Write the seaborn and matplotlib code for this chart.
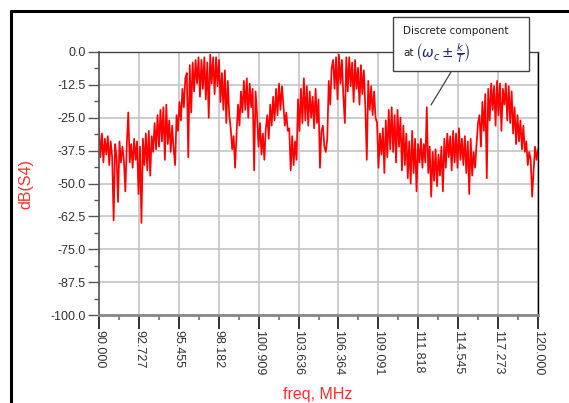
import numpy as np
import matplotlib
matplotlib.use("Agg")
import matplotlib.pyplot as plt
from matplotlib.lines import Line2D
from matplotlib.patches import Rectangle
import seaborn as sns

# dB(S4) trace, 10 samples per MHz from 90.0 to 120.0
db_s4 = [
    -29, -40, -31, -42, -33, -39, -32, -43, -34, -40,   # 90
    -64, -35, -40, -57, -34, -42, -36, -41, -53, -35,   # 91
    -23, -42, -35, -44, -33, -41, -34, -54, -36, -65,   # 92
    -33, -43, -31, -45, -30, -47, -32, -38, -27, -37,   # 93
    -24, -36, -22, -34, -21, -41, -20, -35, -26, -38,   # 94
    -28, -37, -43, -24, -30, -19, -26, -14, -21, -10,   # 95
    -8, -40, -5, -23, -4, -15, -3, -12, -2, -17,        # 96
    -3, -14, -2, -18, -4, -25, -1, -12, -2, -16,        # 97
    -2, -13, -3, -19, -8, -22, -7, -27, -11, -24,       # 98
    -29, -37, -32, -44, -31, -20, -28, -15, -23, -11,   # 99
    -22, -10, -25, -12, -21, -14, -45, -15, -24, -36,   # 100
    -27, -39, -31, -41, -29, -24, -33, -20, -28, -17,   # 101
    -26, -14, -24, -12, -22, -13, -20, -28, -23, -30,   # 102
    -29, -45, -32, -43, -34, -41, -18, -30, -14, -27,   # 103
    -10, -26, -13, -28, -15, -25, -17, -29, -14, -27,   # 104
    -18, -44, -30, -28, -36, -38, -33, -11, -20, -6,    # 105
    -3, -14, -2, -18, -1, -12, -3, -17, -27, -2,        # 106
    -15, -2, -13, -4, -19, -3, -14, -6, -20, -5,        # 107
    -16, -7, -21, -41, -11, -22, -13, -24, -15, -25,    # 108
    -27, -44, -31, -39, -29, -46, -26, -40, -22, -37,   # 109
    -21, -38, -24, -42, -22, -36, -25, -45, -28, -43,   # 110
    -31, -48, -34, -50, -30, -46, -33, -53, -35, -42,   # 111
    -33, -44, -35, -42, -21, -46, -36, -55, -38, -49,   # 112
    -37, -51, -39, -47, -36, -53, -33, -44, -31, -40,   # 113
    -32, -45, -30, -42, -31, -44, -29, -41, -33, -43,   # 114
    -32, -46, -34, -54, -33, -47, -38, -44, -35, -27,   # 115
    -24, -36, -19, -30, -16, -48, -14, -26, -12, -22,   # 116
    -13, -28, -11, -24, -12, -30, -14, -20, -12, -26,   # 117
    -13, -27, -15, -31, -21, -35, -24, -34, -26, -37,   # 118
    -28, -38, -34, -43, -38, -41, -55, -45, -36, -41,   # 119
    -37,
]
freq = np.linspace(90.0, 120.0, len(db_s4))

x_ticks = [90.000, 92.727, 95.455, 98.182, 100.909, 103.636,
           106.364, 109.091, 111.818, 114.545, 117.273, 120.000]
x_labels = ["90.000", "92.727", "95.455", "98.182", "100.909", "103.636",
            "106.364", "109.091", "111.818", "114.545", "117.273", "120.000"]
y_ticks = [0.0, -12.5, -25.0, -37.5, -50.0, -62.5, -75.0, -87.5, -100.0]
y_labels = ["%.1f" % v for v in y_ticks]

sns.set_style("white")
plt.rcParams["font.family"] = ["Liberation Sans", "DejaVu Sans"]

W, H = 569, 403
fig = plt.figure(figsize=(W / 100, H / 100), dpi=100)
ax = fig.add_axes([99 / W, 1 - 315 / H, (538 - 99) / W, (315 - 52) / H])

sns.lineplot(x=freq, y=db_s4, color="red", linewidth=1.25, ax=ax)

ax.set_xlim(90, 120)
ax.set_ylim(-100, 0)
ax.set_xticks(x_ticks)
ax.set_xticklabels(x_labels, rotation=-90, fontsize=9, color="#333333")
ax.set_yticks(y_ticks)
ax.set_yticklabels(y_labels, fontsize=9, color="#333333")
ax.set_xticks([(a + b) / 2 for a, b in zip(x_ticks[:-1], x_ticks[1:])], minor=True)
ax.set_yticks([(a + b) / 2 for a, b in zip(y_ticks[:-1], y_ticks[1:])], minor=True)

ax.tick_params(axis="y", which="major", direction="out", length=8, width=1,
               color="#555555", pad=1.5, left=True)
ax.tick_params(axis="y", which="minor", direction="out", length=3.5, width=1,
               color="#555555", left=True)
ax.tick_params(axis="x", which="major", direction="out", length=10, width=1.2,
               color="#111111", pad=1, bottom=True)
ax.tick_params(axis="x", which="minor", direction="out", length=3.5, width=1.5,
               color="#888888", bottom=True)

ax.grid(True, which="major", color="#c4c4c4", linewidth=1.2)
ax.set_axisbelow(True)

ax.spines["left"].set_color("#555555")
ax.spines["left"].set_linewidth(1.2)
ax.spines["bottom"].set_color("#888888")
ax.spines["bottom"].set_linewidth(2)
ax.spines["top"].set_color("#444444")
ax.spines["top"].set_linewidth(1)
ax.spines["right"].set_color("#000000")
ax.spines["right"].set_linewidth(1)
ax.set_xlabel("")
ax.set_ylabel("")

fig.text(318 / W, 1 - 395 / H, "freq, MHz", color="#ff3030", fontsize=11.5,
         ha="center", va="center")
fig.text(26 / W, 1 - 184 / H, "dB(S4)", color="#ff3030", fontsize=11.5,
         ha="center", va="center", rotation=90)

# outer frame
fig.add_artist(Line2D([11 / W, 11 / W], [0, 1 - 11 / H], color="black", linewidth=2.2))
fig.add_artist(Line2D([11 / W, 1], [1 - 11 / H, 1 - 11 / H], color="black", linewidth=2.2))

# annotation box
fig.add_artist(Rectangle((393 / W, 1 - 71 / H), (529 - 393) / W, (71 - 17) / H,
                         facecolor="white", edgecolor="#444444", linewidth=1,
                         transform=fig.transFigure, zorder=5))
fig.text(403 / W, 1 - 31 / H, "Discrete component", fontsize=7.5,
         family="DejaVu Sans", color="#222222", va="center", zorder=6)
fig.text(403 / W, 1 - 53 / H, "at", fontsize=7.5,
         family="DejaVu Sans", color="#222222", va="center", zorder=6)
fig.text(415 / W, 1 - 53 / H, r"$\left(\omega_c \pm \frac{k}{T}\right)$",
         fontsize=10, color="#1a2a6c", va="center", zorder=6)
fig.add_artist(Line2D([451 / W, 431 / W], [1 - 72 / H, 1 - 105 / H],
                      color="#444444", linewidth=0.9))

fig.savefig("out.png", dpi=100)
